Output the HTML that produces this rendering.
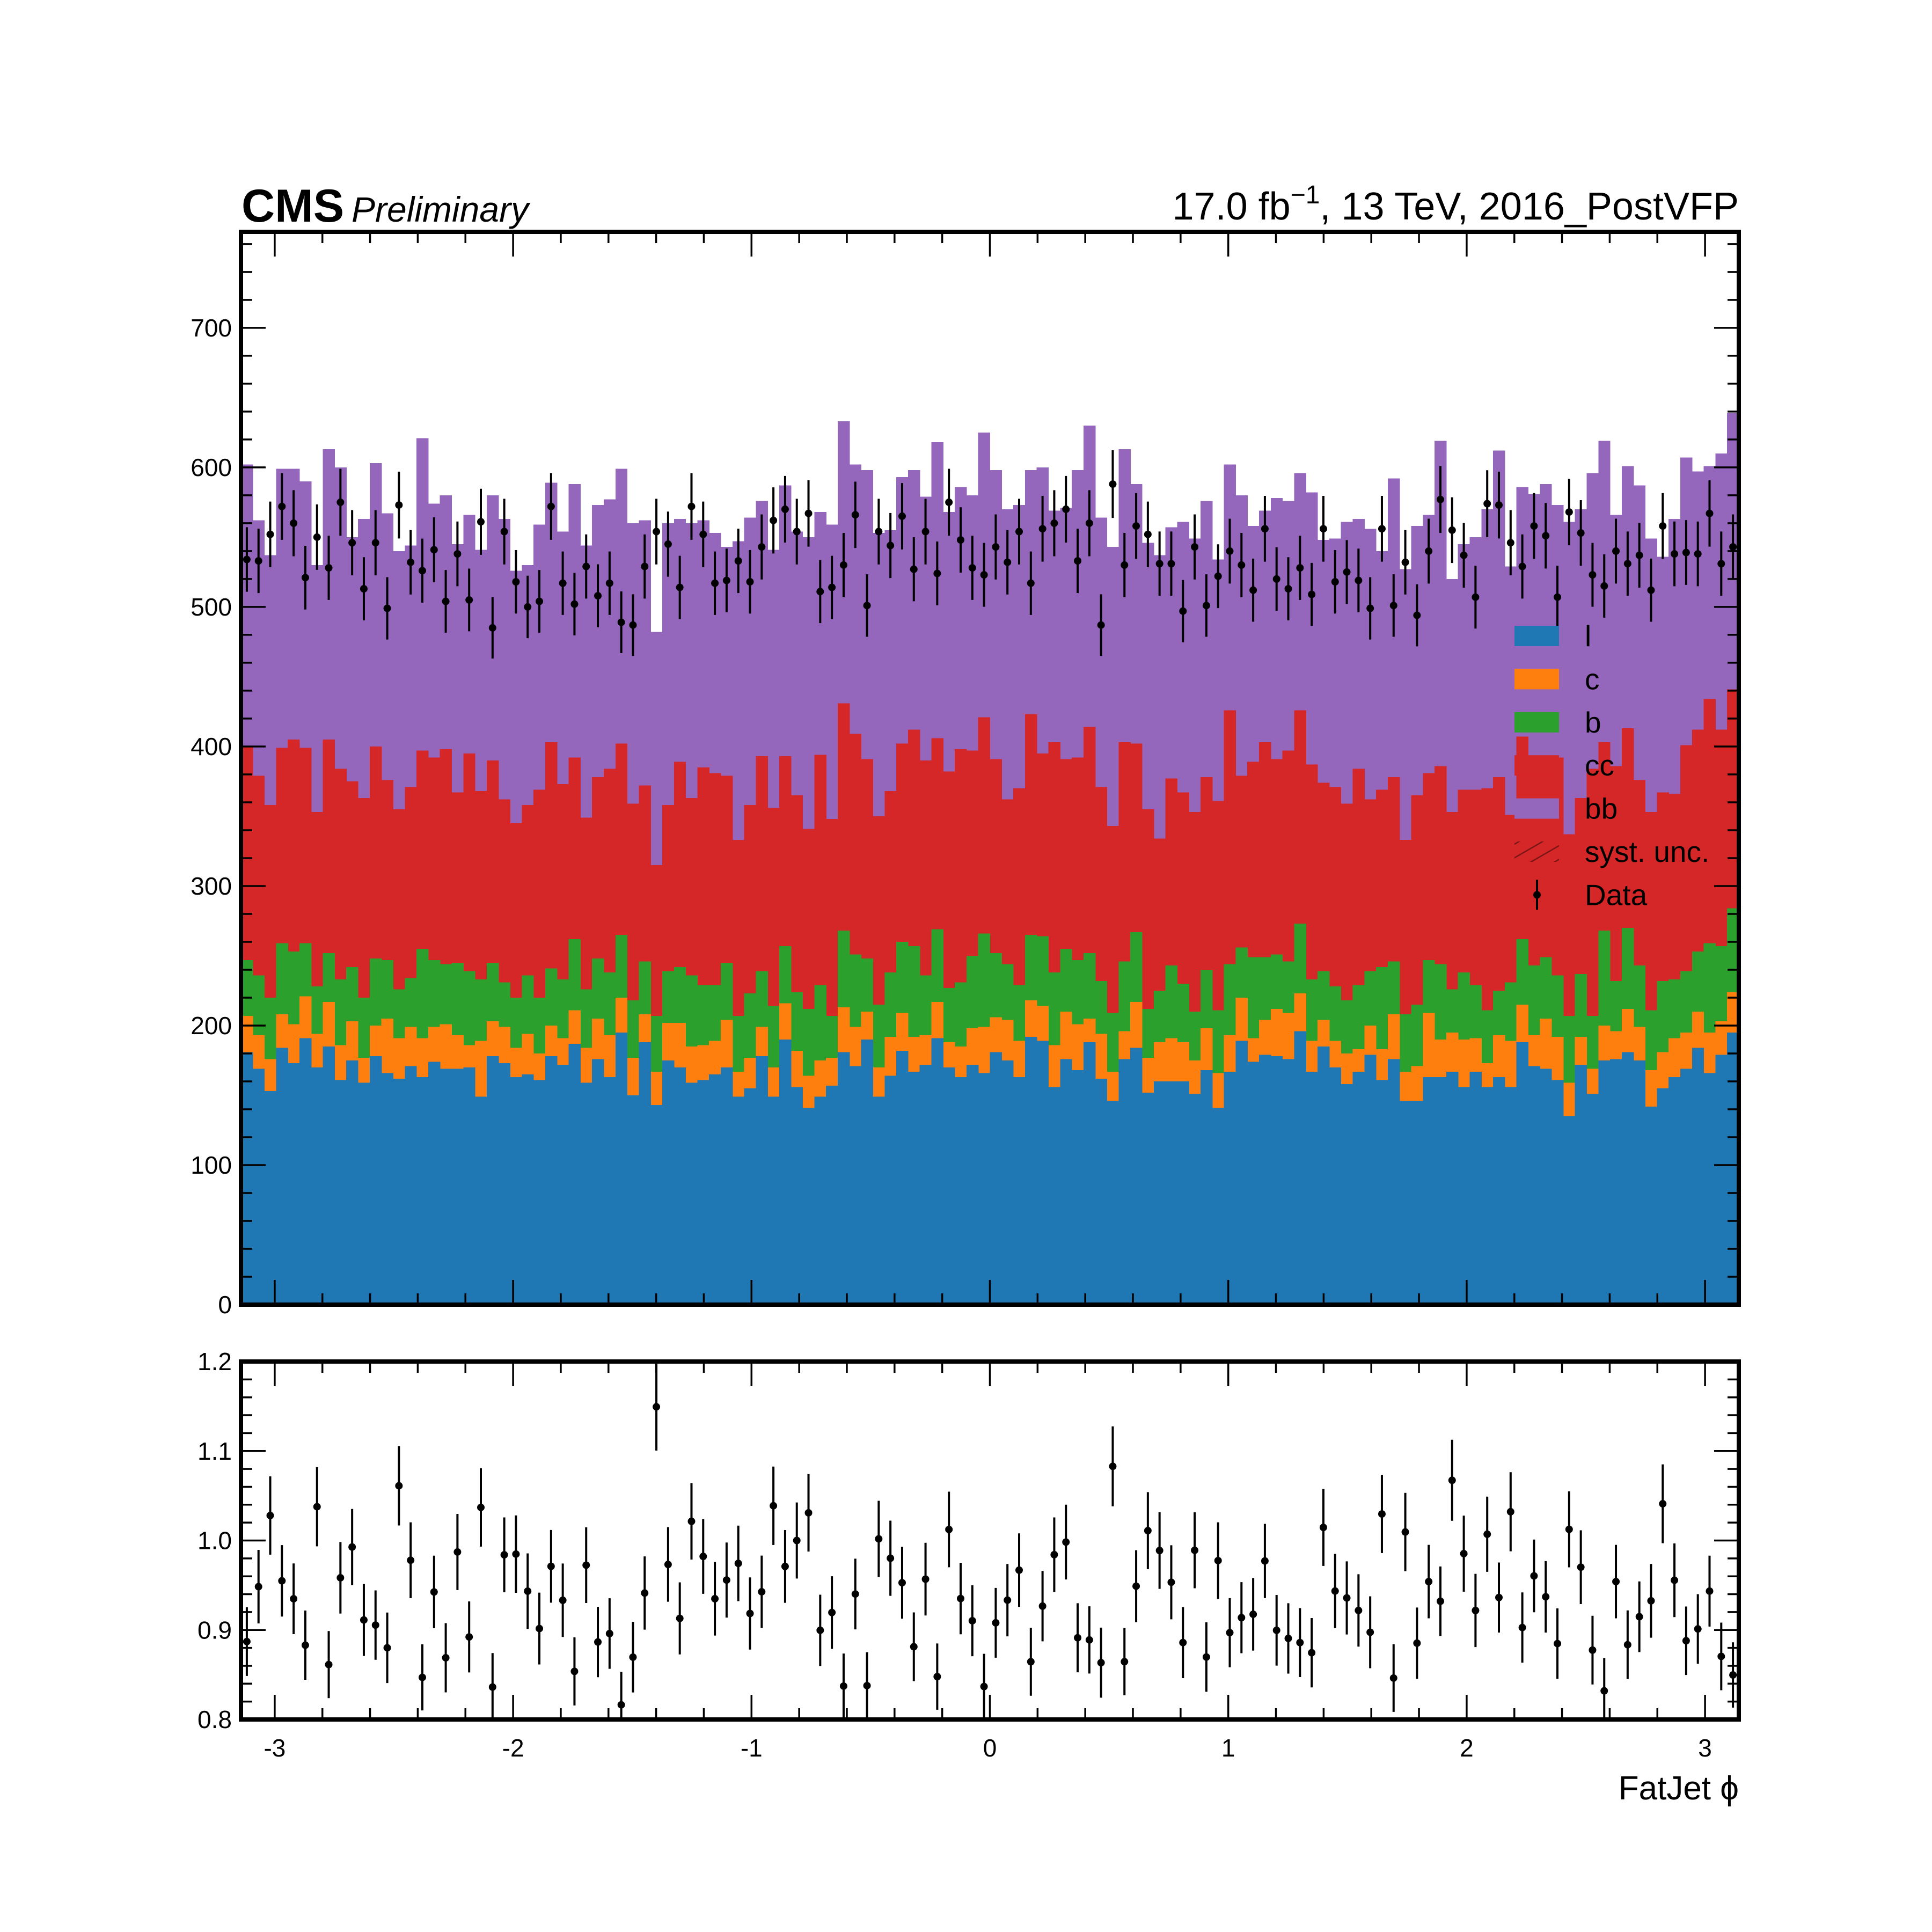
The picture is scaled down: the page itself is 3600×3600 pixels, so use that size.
<!DOCTYPE html>
<html><head><meta charset="utf-8"><title>FatJet phi</title>
<style>html,body{margin:0;padding:0;background:#fff}svg{display:block}text{font-family:"Liberation Sans",Arial,sans-serif;fill:#000}</style>
</head><body>
<svg id="chart" xmlns="http://www.w3.org/2000/svg" width="3600" height="3600" viewBox="0 0 3600 3600">
<defs>
<clipPath id="mainClip"><rect x="449" y="432" width="2791" height="1999"/></clipPath>
<clipPath id="ratioClip"><rect x="449" y="2537" width="2791" height="667"/></clipPath>
<pattern id="hatch" patternUnits="userSpaceOnUse" width="22" height="22" patternTransform="rotate(60)"><line x1="0" y1="0" x2="0" y2="22" stroke="#7a1515" stroke-width="5"/></pattern>
</defs>
<g id="mainHist" clip-path="url(#mainClip)"></g>
<g id="mainData"></g>
<g id="ratioData" clip-path="url(#ratioClip)"></g>
<g id="axes"></g>
<text x="450" y="413" font-size="86" font-weight="bold">CMS</text>
<text x="655" y="413" font-size="66" font-style="italic">Preliminary</text>
<text x="3240" y="409" font-size="72" text-anchor="end">17.0 fb<tspan font-size="48" dy="-30">−1</tspan><tspan dy="30">, 13 TeV, 2016_PostVFP</tspan></text>
<text x="3240" y="3353" font-size="62" text-anchor="end">FatJet ϕ</text>
<g id="legend"></g>
</svg>
<script>
// cumulative stack tops per bin (l, l+c, l+c+b, +cc, +bb)
const stackL = [181,169,153,184,173,191,170,185,161,175,159,178,166,162,171,163,174,169,169,170,149,178,173,163,165,161,178,172,187,159,176,163,195,150,188,143,175,170,159,161,165,170,149,155,178,149,190,156,141,149,157,181,171,190,149,164,182,167,172,191,170,163,172,166,181,175,163,192,189,156,176,168,188,162,146,176,184,152,160,160,160,151,168,141,167,189,174,179,178,176,196,167,185,170,158,167,179,161,176,146,146,163,163,167,156,167,156,163,156,188,171,169,161,135,172,151,175,176,181,175,142,155,163,169,184,166,179,195];
const stackC = [207,193,176,208,201,221,194,217,186,203,177,200,205,191,199,191,199,201,193,186,189,203,199,184,194,180,200,191,211,184,205,193,220,177,208,167,202,202,185,186,189,204,167,177,199,170,216,182,164,175,177,213,199,210,170,192,209,192,193,217,188,185,198,199,206,204,189,218,214,186,210,201,205,194,167,196,217,177,188,191,188,175,198,166,193,220,191,204,212,209,223,189,204,189,180,183,200,183,208,167,171,209,190,195,190,191,173,193,189,215,193,205,192,159,192,169,200,196,212,199,168,181,191,195,210,195,203,224];
const stackB = [247,236,220,259,253,259,228,252,233,242,220,248,247,226,234,255,247,244,245,239,233,245,231,220,236,220,241,233,262,226,248,238,265,218,246,207,239,242,236,229,229,245,207,223,239,214,257,224,212,229,207,268,251,248,215,238,260,257,236,269,227,231,250,266,252,244,229,265,264,238,255,247,252,232,209,246,267,212,225,243,230,210,240,211,244,256,249,249,251,246,273,233,239,228,218,229,239,242,246,208,215,247,244,226,238,229,211,225,231,262,243,249,236,207,237,207,268,232,270,243,211,232,233,239,253,259,257,284];
const stackCC = [400,379,358,399,405,399,353,405,384,375,363,400,376,355,371,397,392,398,367,395,368,390,362,345,358,369,403,373,392,349,378,384,402,359,372,315,358,389,363,385,381,379,333,358,393,356,393,365,341,394,348,431,409,391,350,368,402,412,390,406,382,398,397,421,391,362,370,423,395,403,391,392,414,371,343,403,402,355,334,377,367,353,378,361,426,379,389,403,391,397,426,387,374,371,359,384,362,369,378,333,365,381,386,353,369,369,370,378,351,407,392,392,392,337,363,384,403,386,413,376,353,367,366,401,412,434,412,441];
const stackBB = [602,562,537,599,599,590,530,613,600,550,563,603,567,540,544,621,574,580,545,566,541,580,563,526,530,559,589,554,588,544,573,577,599,560,562,482,560,563,560,562,553,543,547,564,576,541,587,554,550,568,559,633,602,598,553,555,593,598,579,618,568,586,580,625,598,570,573,598,600,569,571,598,630,564,543,613,588,546,537,557,561,549,576,534,602,580,558,569,578,576,596,582,548,549,561,563,556,540,592,527,558,566,619,520,545,550,570,612,529,586,581,588,573,561,570,596,619,566,601,587,549,536,563,607,597,601,610,639];
const dataCounts = [534,533,552,572,560,521,550,528,575,546,513,546,499,573,532,526,541,504,538,505,561,485,554,518,500,504,572,517,502,529,508,517,489,487,529,554,545,514,572,552,517,519,533,518,543,562,570,554,567,511,514,530,566,501,554,544,565,527,554,524,575,548,528,523,543,532,554,517,556,560,570,533,560,487,588,530,558,552,531,531,497,543,501,522,540,530,512,556,520,513,528,509,556,518,525,519,499,556,501,532,494,540,577,555,537,507,574,573,546,529,558,551,507,568,553,523,515,540,531,537,512,558,538,539,538,567,531,543];
const mainYTicks = [0,100,200,300,400,500,600,700];
const ratioYTicks = [0.8,0.9,1.0,1.1,1.2];
const ratioYLabels = ["0.8","0.9","1.0","1.1","1.2"];
const xTicks = [-3,-2,-1,0,1,2,3];
const legendLabels = ["l","c","b","cc","bb","syst. unc.","Data"];

const NS = "http://www.w3.org/2000/svg";
const L = 449, R = 3240, MT = 432, MB = 2431, RT = 2537, RB = 3204;
const XMIN = -Math.PI, XMAX = Math.PI, YMAX = 768.8;
const NB = stackBB.length;
const xs = v => L + (v - XMIN) / (XMAX - XMIN) * (R - L);
const ym = v => MB - v / YMAX * (MB - MT);
const yr = v => RB - (v - 0.8) / 0.4 * (RB - RT);
const bw = (XMAX - XMIN) / NB;
function mk(tag, attrs, parent) { const e = document.createElementNS(NS, tag); for (const k in attrs) e.setAttribute(k, attrs[k]); parent.appendChild(e); return e; }

const hist = document.getElementById('mainHist');
const layers = [[stackBB,'#9467bd','bb'],[stackCC,'#d62728','cc'],[stackB,'#2ca02c','b'],[stackC,'#ff7f0e','c'],[stackL,'#1f77b4','l']];
layers.forEach(([arr, col, nm]) => {
  const g = mk('g', {}, hist);
  
  
  arr.forEach((v, i) => {
    const x0 = xs(XMIN + i * bw), x1 = xs(XMIN + (i + 1) * bw);
    const r = mk('rect', {x: x0, y: ym(v), width: x1 - x0 + 0.6, height: MB - ym(v), fill: col, 'shape-rendering': 'crispEdges'}, g);
    
    
  });
});

const md = document.getElementById('mainData');
const rd = document.getElementById('ratioData');
dataCounts.forEach((d, i) => {
  const cx = xs(XMIN + (i + 0.5) * bw);
  const err = Math.sqrt(d);
  const g = mk('g', {}, md);
  
  
  mk('line', {x1: cx, x2: cx, y1: ym(d - err), y2: ym(d + err), stroke: '#000', 'stroke-width': 4}, g);
  mk('circle', {cx: cx, cy: ym(d), r: 7, fill: '#000'}, g);
  const tot = stackBB[i];
  const rv = d / tot, re = err / tot;
  const g2 = mk('g', {}, rd);
  
  
  mk('line', {x1: cx, x2: cx, y1: yr(rv - re), y2: yr(rv + re), stroke: '#000', 'stroke-width': 4}, g2);
  mk('circle', {cx: cx, cy: yr(rv), r: 7, fill: '#000'}, g2);
});

const ax = document.getElementById('axes');
function frame(top, bot, nm) {
  const r = mk('rect', {x: L, y: top, width: R - L, height: bot - top, fill: 'none', stroke: '#000', 'stroke-width': 8}, ax);
  
  
}
frame(MT, MB, 'main-frame');
frame(RT, RB, 'ratio-frame');
function tk(x1, y1, x2, y2) { mk('line', {x1, y1, x2, y2, stroke: '#000', 'stroke-width': 3.5}, ax); }
for (let k = -15; k <= 15; k++) {
  const v = k * 0.2; if (v < XMIN || v > XMAX) continue;
  const major = (k % 5 === 0); const len = major ? 46 : 21; const x = xs(v);
  tk(x, MB, x, MB - len); tk(x, MT, x, MT + len);
  tk(x, RB, x, RB - len); tk(x, RT, x, RT + len);
}
for (let v = 0; v <= YMAX; v += 20) {
  const major = (v % 100 === 0); const len = major ? 46 : 21; const y = ym(v);
  tk(L, y, L + len, y); tk(R, y, R - len, y);
}
mainYTicks.forEach(v => {
  const t = mk('text', {x: 432, y: ym(v) + 16, 'font-size': 46, 'text-anchor': 'end'}, ax);
  t.textContent = String(v);
  
  
});
for (let k = 40; k <= 60; k++) {
  const v = k * 0.02; const major = (k % 5 === 0); const len = major ? 46 : 21; const y = yr(v);
  tk(L, y, L + len, y); tk(R, y, R - len, y);
}
ratioYTicks.forEach((v, i) => {
  const t = mk('text', {x: 432, y: yr(v) + 16, 'font-size': 46, 'text-anchor': 'end'}, ax);
  t.textContent = ratioYLabels[i];
  
  
});
xTicks.forEach(v => {
  const t = mk('text', {x: xs(v), y: 3273, 'font-size': 46, 'text-anchor': 'middle'}, ax);
  t.textContent = String(v);
  
  
});

const lg = document.getElementById('legend');
const legCols = ['#1f77b4','#ff7f0e','#2ca02c','#d62728','#9467bd'];
legendLabels.forEach((lab, i) => {
  const cy = 1185 + i * 80.4;
  const g = mk('g', {}, lg);
  
  
  if (i < 5) mk('rect', {x: 2822, y: cy - 19, width: 83, height: 38, fill: legCols[i]}, g);
  else if (i === 5) mk('rect', {x: 2822, y: cy - 19, width: 83, height: 38, fill: 'url(#hatch)'}, g);
  else { mk('line', {x1: 2864, x2: 2864, y1: cy - 28, y2: cy + 28, stroke: '#000', 'stroke-width': 4}, g); mk('circle', {cx: 2864, cy: cy, r: 7, fill: '#000'}, g); }
  const t = mk('text', {x: 2953, y: cy + 19, 'font-size': 55}, g);
  t.textContent = lab;
});
</script>
</body></html>
